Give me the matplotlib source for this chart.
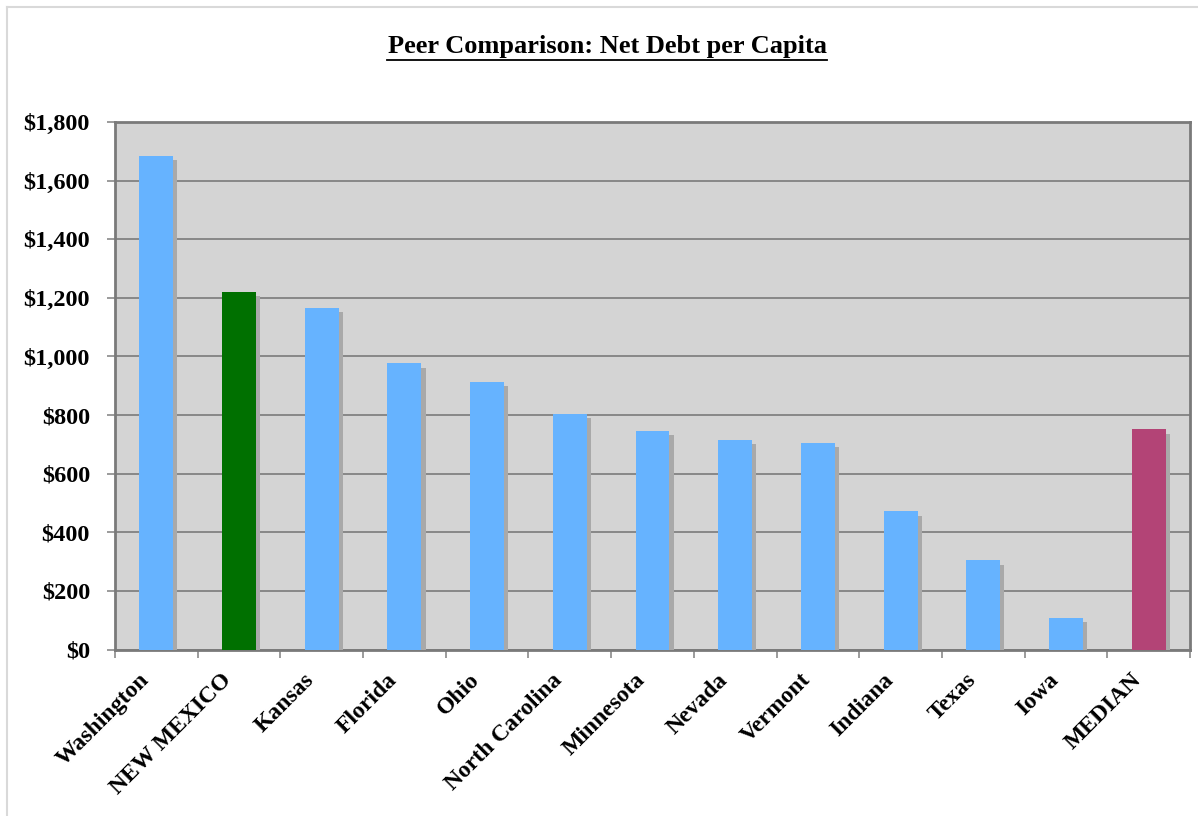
# Peer comparison bar chart: net debt per capita by state
import matplotlib.pyplot as plt
import matplotlib.patheffects as pe
import matplotlib.transforms as mtransforms
from matplotlib.lines import Line2D
from matplotlib.ticker import FuncFormatter, FixedLocator
import numpy as np

# data
states = ["Washington", "NEW MEXICO", "Kansas", "Florida", "Ohio", "North Carolina",
          "Minnesota", "Nevada", "Vermont", "Indiana", "Texas", "Iowa", "MEDIAN"]
debt_per_capita = [1684, 1220, 1167, 976, 914, 805, 746, 715, 705, 471, 304, 108, 751]
bar_colors = ["#66b3ff", "#007000"] + ["#66b3ff"] * 10 + ["#b34476"]

plt.rcParams['font.family'] = ['Liberation Serif', 'DejaVu Serif']
plt.rcParams['font.weight'] = 'bold'

fig = plt.figure(figsize=(11.98, 8.16), dpi=100)
ax = fig.add_axes([115 / 1198, 1 - 649.5 / 816, 1075 / 1198, 527.5 / 816])

x = np.arange(len(states))
bars = ax.bar(x, debt_per_capita, width=0.41, color=bar_colors, zorder=3,
              path_effects=[pe.SimplePatchShadow(offset=(3, -3), shadow_rgbFace='#a9a9a9', alpha=1.0),
                            pe.Normal()])

ax.set_facecolor('#d4d4d4')
ax.set_xlim(-0.5, len(states) - 0.5)
ax.set_ylim(0, 1800)
ax.set_yticks(np.arange(0, 1801, 200))
ax.yaxis.set_major_formatter(FuncFormatter(lambda v, p: f"${v:,.0f}"))
ax.grid(axis='y', color='#7a7a7a', linewidth=1.2, zorder=1)
ax.set_axisbelow(True)

# ticks sit between categories, labels drawn as text under the centres
ax.xaxis.set_major_locator(FixedLocator(np.arange(-0.5, len(states), 1.0)))
ax.xaxis.set_major_formatter(FuncFormatter(lambda v, p: ""))
ax.tick_params(axis='x', which='major', length=6, color='#8a8a8a', width=1.2)
ax.tick_params(axis='y', length=6, color='#8a8a8a', width=1.2, pad=12, labelsize=17.5)
for lab in ax.get_yticklabels():
    lab.set_fontweight('bold')

label_trans = mtransforms.offset_copy(ax.get_xaxis_transform(), fig=fig, x=-18, y=-20, units='dots')
for xi, name in zip(x, states):
    ax.text(xi, 0, name, transform=label_trans, rotation=45, ha='right', va='top',
            rotation_mode='anchor', fontsize=17, fontweight='bold', clip_on=False)

for side in ['left', 'bottom', 'top', 'right']:
    ax.spines[side].set_color('#7a7a7a')
    ax.spines[side].set_linewidth(2)

fig.text(607 / 1198, 1 - 46 / 816, "Peer Comparison: Net Debt per Capita",
         ha='center', va='center', fontsize=19, fontweight='bold')
# underline for the title
fig.add_artist(Line2D([387 / 1198, 827 / 1198], [1 - 60 / 816, 1 - 60 / 816],
                      color='black', linewidth=1.3))

# light frame around the chart (top and left edges)
fig.add_artist(Line2D([7 / 1198, 1], [1 - 7 / 816, 1 - 7 / 816], color='#d9d9d9', linewidth=1.5))
fig.add_artist(Line2D([7 / 1198, 7 / 1198], [0, 1 - 7 / 816], color='#d9d9d9', linewidth=1.5))

fig.savefig("out.png", dpi=100)
